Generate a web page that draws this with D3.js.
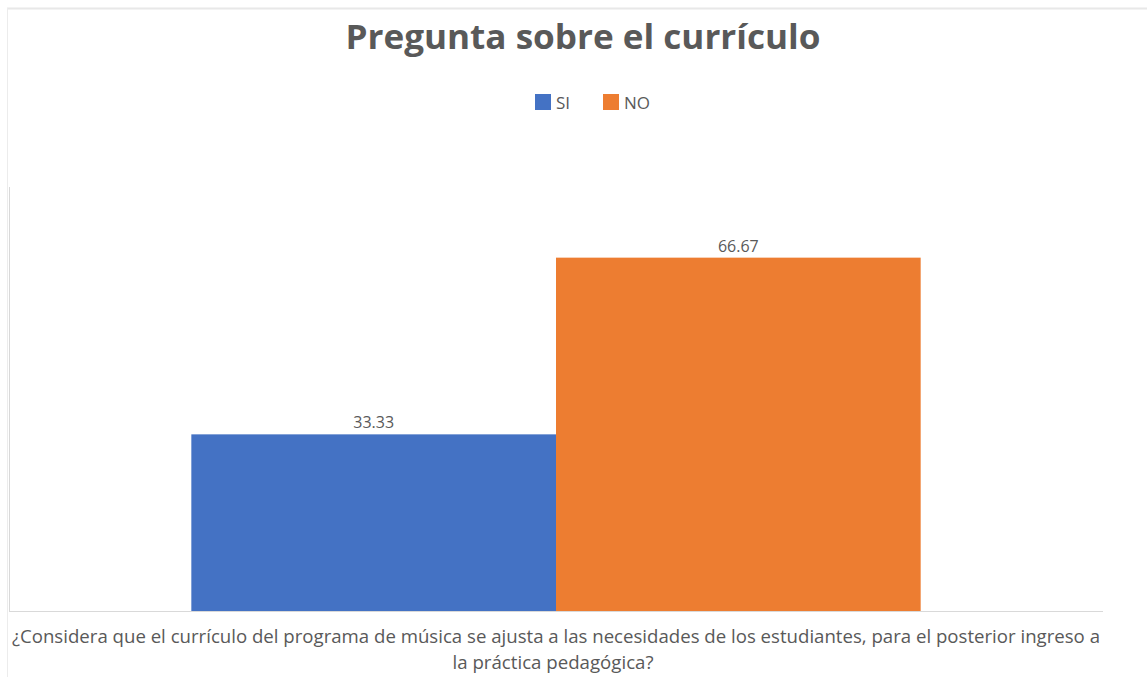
<!DOCTYPE html>
<html>
<head>
<meta charset="utf-8">
<script src="https://cdn.jsdelivr.net/npm/d3@7"></script>
<style>
  body { margin: 0; background: #fff; }
  text { font-family: "Open Sans", "Noto Sans", sans-serif; fill: #595959; }
</style>
</head>
<body>
<script>
// data
var categories = ["SI", "NO"];
var values = [33.33, 66.67];
var colors = ["#4472c4", "#ed7d31"];
var titleText = "Pregunta sobre el currículo";
var axisLines = ["¿Considera que el currículo del programa de música se ajusta a las necesidades de los estudiantes, para el posterior ingreso a",
                 "la práctica pedagógica?"];

var width = 1147, height = 677;
var margin = {top: 187, right: 44, bottom: 66, left: 9};
var innerW = width - margin.left - margin.right,
    innerH = height - margin.top - margin.bottom;

var svg = d3.select("body").append("svg")
  .attr("width", width)
  .attr("height", height);

// outer chart border (only top and left visible)
svg.append("line").attr("x1", 7).attr("x2", width).attr("y1", 8.5).attr("y2", 8.5)
  .attr("stroke", "#e8e8e8").attr("stroke-width", 2);
svg.append("line").attr("x1", 7.5).attr("x2", 7.5).attr("y1", 8).attr("y2", height)
  .attr("stroke", "#ececec").attr("stroke-width", 1);

// title
svg.append("text")
  .attr("x", 583).attr("y", 49)
  .attr("text-anchor", "middle")
  .style("font-size", "34px").style("font-weight", "bold")
  .attr("textLength", 475).attr("lengthAdjust", "spacingAndGlyphs")
  .text(titleText);

// legend
var legend = svg.append("g");
var legX = [535, 603];
categories.forEach(function(c, i) {
  legend.append("rect")
    .attr("x", legX[i]).attr("y", 94)
    .attr("width", 16).attr("height", 16)
    .attr("fill", colors[i]);
  legend.append("text")
    .attr("x", legX[i] + 21).attr("y", 109)
    .style("font-size", "17px")
    .text(c);
});

var g = svg.append("g")
  .attr("transform", "translate(" + margin.left + "," + margin.top + ")");

var x0 = d3.scaleBand().domain(["q"]).range([0, innerW]).paddingInner(0).paddingOuter(0.25);
var x1 = d3.scaleBand().domain(categories).range([x0("q"), x0("q") + x0.bandwidth()]).padding(0);
var y = d3.scaleLinear().domain([0, 80]).range([innerH, 0]);

// axes lines
g.append("line").attr("x1", 0.5).attr("x2", 0.5).attr("y1", 0).attr("y2", innerH)
  .attr("stroke", "#d9d9d9");
g.append("line").attr("x1", 0).attr("x2", innerW).attr("y1", innerH + 0.5).attr("y2", innerH + 0.5)
  .attr("stroke", "#d9d9d9");

// bars
g.selectAll("rect.bar")
  .data(values)
  .enter().append("rect")
    .attr("class", "bar")
    .attr("x", function(d, i) { return x1(categories[i]); })
    .attr("width", x1.bandwidth())
    .attr("y", function(d) { return y(d); })
    .attr("height", function(d) { return innerH - y(d); })
    .attr("fill", function(d, i) { return colors[i]; });

// data labels
g.selectAll("text.lbl")
  .data(values)
  .enter().append("text")
    .attr("class", "lbl")
    .attr("x", function(d, i) { return x1(categories[i]) + x1.bandwidth() / 2; })
    .attr("y", function(d) { return y(d) - 6; })
    .attr("text-anchor", "middle")
    .style("font-size", "16px")
    .text(function(d) { return d.toFixed(2); });

// axis title
var axLen = [1088, 201];
svg.selectAll("text.axt")
  .data(axisLines)
  .enter().append("text")
    .attr("class", "axt")
    .attr("x", function(d, i) { return i === 0 ? 556 : 553; })
    .attr("y", function(d, i) { return 643 + i * 26; })
    .attr("text-anchor", "middle")
    .style("font-size", "18px")
    .attr("textLength", function(d, i) { return axLen[i]; })
    .attr("lengthAdjust", "spacingAndGlyphs")
    .text(function(d) { return d; });
</script>
</body>
</html>
